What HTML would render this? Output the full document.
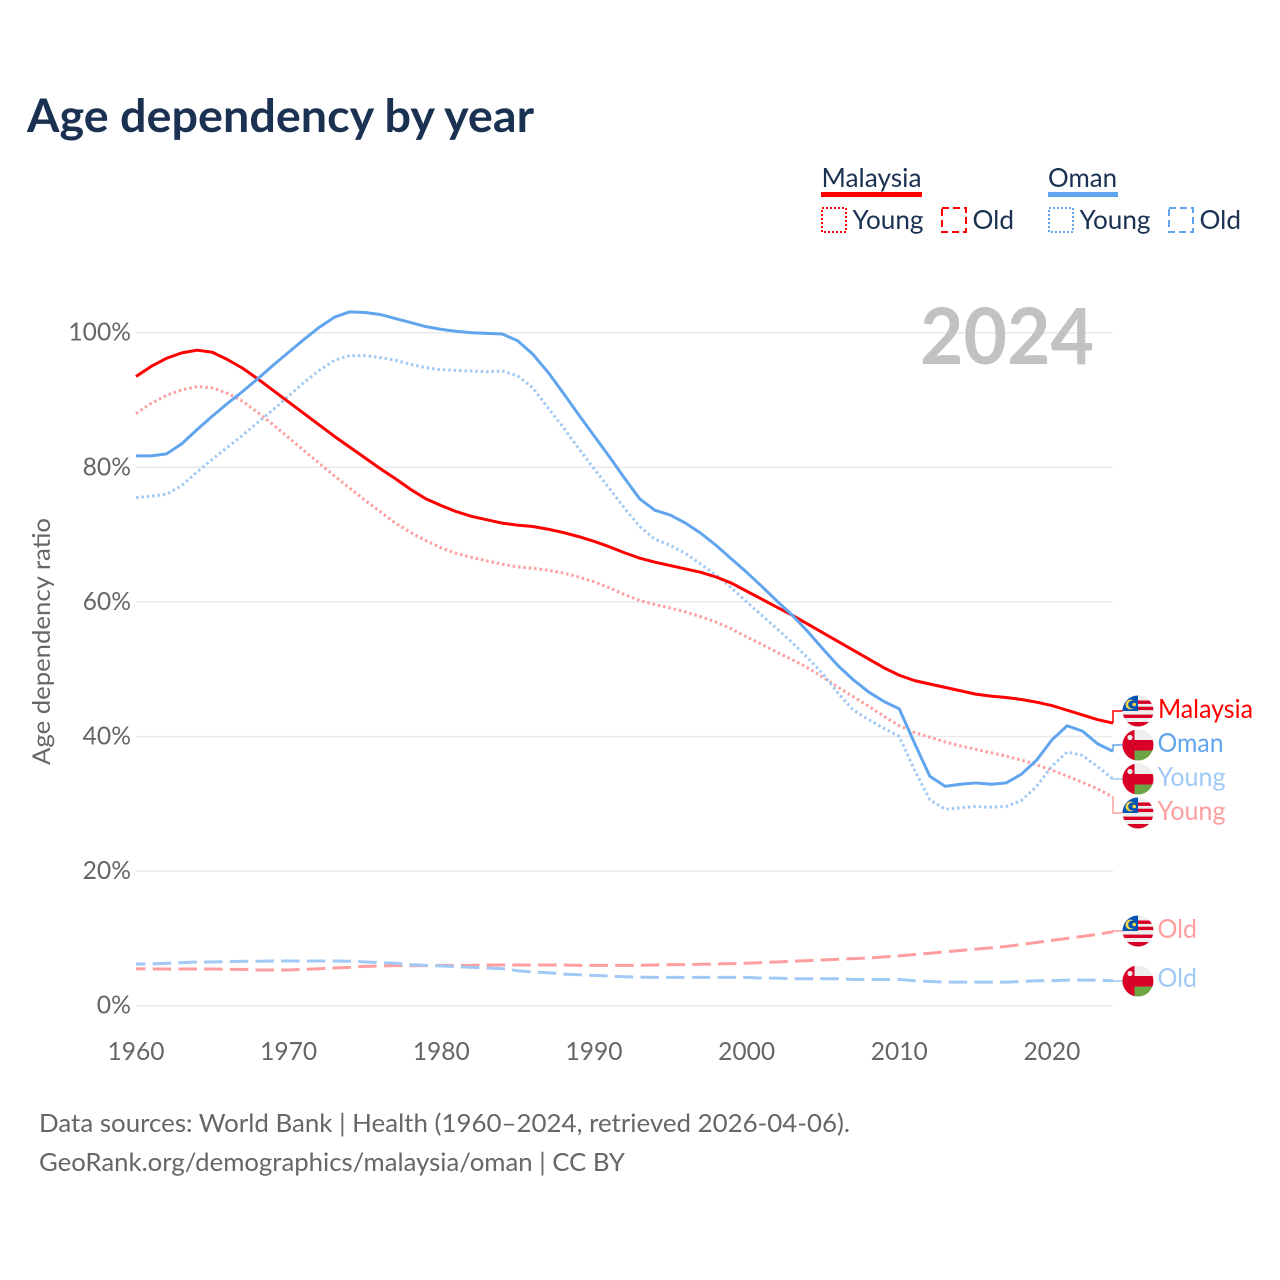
<!DOCTYPE html>
<html lang="en">
<head>
<meta charset="utf-8">
<title>Age dependency by year</title>
<style>
html,body{margin:0;padding:0;background:#fff;}
svg{display:block;}
text{font-family:"Lato","Carlito","Liberation Sans",sans-serif;}
</style>
</head>
<body>
<svg id="chart" xmlns="http://www.w3.org/2000/svg" width="1280" height="1280" viewBox="0 0 1280 1280">
  <defs>
    <clipPath id="flag-clip"><circle cx="0" cy="0" r="15.5"/></clipPath>
    <g id="flag-my" clip-path="url(#flag-clip)">
      <rect x="-16" y="-16" width="32" height="32" fill="#eeeeee"/>
      <rect x="-16" y="-10.5" width="32" height="3.4" fill="#d80027"/>
      <rect x="-16" y="-4.3" width="32" height="3.4" fill="#d80027"/>
      <rect x="-16" y="3.6" width="32" height="3.4" fill="#d80027"/>
      <rect x="-16" y="11" width="32" height="5" fill="#d80027"/>
      <rect x="-16" y="-16" width="16" height="16" fill="#0052b4"/>
      <circle cx="-7.5" cy="-6.5" r="5" fill="#ffda44"/>
      <circle cx="-5.8" cy="-6.5" r="4" fill="#0052b4"/>
      <circle cx="-3.8" cy="-6.5" r="1.8" fill="#ffda44"/>
    </g>
    <g id="flag-om" clip-path="url(#flag-clip)">
      <rect x="-16" y="-16" width="32" height="32" fill="#eeeeee"/>
      <rect x="-16" y="-5" width="32" height="10.5" fill="#d80027"/>
      <rect x="-16" y="-16" width="12.5" height="32" fill="#d80027"/>
      <rect x="-3.5" y="5.5" width="20" height="11" fill="#6da544"/>
      <circle cx="-8" cy="-7.5" r="2.6" fill="#eeeeee"/>
    </g>
  </defs>

  <rect x="0" y="0" width="1280" height="1280" fill="#ffffff"/>

  <text x="27" y="132" font-size="46" font-weight="700" fill="#1a3152" textLength="507" lengthAdjust="spacingAndGlyphs">Age dependency by year</text>

  <g>
    <text x="821.5" y="187" font-size="26" fill="#1a3152" textLength="100" lengthAdjust="spacingAndGlyphs">Malaysia</text>
    <rect x="821" y="192" width="101" height="5" fill="#ff0000"/>
    <rect x="822" y="208" width="24" height="24" fill="none" stroke="#ff0000" stroke-width="2" stroke-dasharray="2 2"/>
    <text x="852.5" y="229" font-size="26" fill="#1a3152" textLength="71" lengthAdjust="spacingAndGlyphs">Young</text>
    <rect x="942" y="208" width="24" height="24" fill="none" stroke="#ff0000" stroke-width="2" stroke-dasharray="7 4"/>
    <text x="972.5" y="229" font-size="26" fill="#1a3152" textLength="41.5" lengthAdjust="spacingAndGlyphs">Old</text>

    <text x="1048" y="187" font-size="26" fill="#1a3152" textLength="69" lengthAdjust="spacingAndGlyphs">Oman</text>
    <rect x="1048" y="192" width="70" height="5" fill="#60a5ee"/>
    <rect x="1049" y="208" width="24" height="24" fill="none" stroke="#60a5ee" stroke-width="2" stroke-dasharray="2 2"/>
    <text x="1079.5" y="229" font-size="26" fill="#1a3152" textLength="71" lengthAdjust="spacingAndGlyphs">Young</text>
    <rect x="1169" y="208" width="24" height="24" fill="none" stroke="#60a5ee" stroke-width="2" stroke-dasharray="7 4"/>
    <text x="1199.5" y="229" font-size="26" fill="#1a3152" textLength="41.5" lengthAdjust="spacingAndGlyphs">Old</text>
  </g>

  <g id="grid"></g>

  <text x="920" y="364" font-size="78" font-weight="700" fill="#c2c2c2" textLength="174" lengthAdjust="spacingAndGlyphs">2024</text>

  <g id="ylabels"></g>
  <g id="xlabels"></g>
  <text transform="translate(50,765) rotate(-90)" x="0" y="0" font-size="24" fill="#666666" textLength="247" lengthAdjust="spacingAndGlyphs">Age dependency ratio</text>

  <g id="series"></g>
  <g id="connectors"></g>

  <g>
    <use href="#flag-my" x="1138" y="711"/>
    <use href="#flag-om" x="1138" y="745"/>
    <use href="#flag-om" x="1138" y="779"/>
    <use href="#flag-my" x="1138" y="813"/>
    <use href="#flag-my" x="1138" y="931"/>
    <use href="#flag-om" x="1138" y="981"/>
    <text x="1158" y="718" font-size="26" fill="#ff0000" textLength="95" lengthAdjust="spacingAndGlyphs">Malaysia</text>
    <text x="1157.5" y="752" font-size="26" fill="#60a5ee" textLength="66" lengthAdjust="spacingAndGlyphs">Oman</text>
    <text x="1157.5" y="786" font-size="26" fill="#a0c9f6" textLength="68" lengthAdjust="spacingAndGlyphs">Young</text>
    <text x="1157.5" y="820" font-size="26" fill="#ff9e9e" textLength="68" lengthAdjust="spacingAndGlyphs">Young</text>
    <text x="1157.5" y="938" font-size="26" fill="#ff9e9e" textLength="39.5" lengthAdjust="spacingAndGlyphs">Old</text>
    <text x="1157.5" y="987" font-size="26" fill="#a0c9f6" textLength="39.5" lengthAdjust="spacingAndGlyphs">Old</text>
  </g>

  <text x="39" y="1132" font-size="25" fill="#666666" textLength="811" lengthAdjust="spacingAndGlyphs">Data sources: World Bank | Health (1960–2024, retrieved 2026-04-06).</text>
  <text x="39" y="1171" font-size="25" fill="#666666" textLength="586" lengthAdjust="spacingAndGlyphs">GeoRank.org/demographics/malaysia/oman | CC BY</text>
</svg>

<script>
const startYear = 1960;
const xTickYears = [1960, 1970, 1980, 1990, 2000, 2010, 2020];
const yTickValues = [0, 20, 40, 60, 80, 100];

const malaysiaTotal = [93.5,95.0,96.2,97.0,97.4,97.1,96.0,94.7,93.1,91.4,89.7,88.0,86.3,84.6,83.0,81.4,79.8,78.3,76.7,75.3,74.3,73.4,72.7,72.2,71.7,71.4,71.2,70.8,70.3,69.7,69.0,68.2,67.3,66.5,65.9,65.4,64.9,64.4,63.7,62.8,61.6,60.4,59.2,58.0,56.7,55.4,54.1,52.8,51.5,50.2,49.1,48.3,47.8,47.3,46.8,46.3,46.0,45.8,45.5,45.1,44.6,43.9,43.2,42.5,42.0];
const malaysiaYoung = [88.0,89.5,90.7,91.5,92.0,91.8,91.0,89.8,88.1,86.3,84.4,82.5,80.6,78.7,76.9,75.1,73.4,71.7,70.3,69.1,68.0,67.2,66.6,66.1,65.6,65.2,65.0,64.7,64.3,63.7,63.0,62.1,61.1,60.2,59.6,59.1,58.5,57.8,57.0,56.0,54.8,53.7,52.5,51.4,50.2,48.8,47.3,45.9,44.5,43.0,41.6,40.6,39.9,39.2,38.6,38.1,37.6,37.1,36.5,35.8,35.0,34.1,33.2,32.2,31.0];
const malaysiaOld = [5.5,5.45,5.45,5.45,5.45,5.45,5.4,5.4,5.3,5.3,5.3,5.4,5.5,5.6,5.7,5.85,5.9,5.95,5.95,5.95,6.0,6.0,6.0,6.05,6.05,6.05,6.05,6.05,6.05,6.0,6.0,6.0,6.0,6.0,6.05,6.1,6.1,6.15,6.2,6.25,6.3,6.4,6.5,6.6,6.7,6.8,6.9,7.0,7.1,7.25,7.4,7.6,7.8,8.0,8.2,8.4,8.6,8.8,9.1,9.4,9.7,10.0,10.3,10.6,11.0];
const omanTotal = [81.7,81.7,82.0,83.5,85.6,87.6,89.5,91.3,93.2,95.2,97.1,99.0,100.8,102.3,103.1,103.0,102.7,102.1,101.5,100.9,100.5,100.2,100.0,99.9,99.8,98.8,96.8,94.1,91.0,87.8,84.7,81.6,78.4,75.3,73.6,72.9,71.7,70.2,68.4,66.4,64.4,62.3,60.1,58.0,55.6,53.0,50.5,48.4,46.6,45.2,44.1,39.0,34.1,32.6,32.9,33.1,32.9,33.1,34.4,36.5,39.5,41.6,40.8,38.9,37.8];
const omanYoung = [75.5,75.7,76.0,77.3,79.3,81.2,83.0,84.8,86.7,88.6,90.6,92.6,94.4,95.9,96.6,96.6,96.3,95.9,95.3,94.8,94.5,94.4,94.3,94.2,94.3,93.6,91.8,88.8,85.9,82.8,79.8,76.9,73.9,71.2,69.3,68.4,67.2,65.6,64.0,62.1,60.0,58.0,56.0,53.9,51.7,49.3,46.4,43.9,42.5,41.2,40.0,35.0,30.6,29.2,29.4,29.6,29.5,29.6,30.5,32.6,35.6,37.7,37.2,35.5,33.7];
const omanOld = [6.2,6.2,6.3,6.4,6.5,6.5,6.55,6.6,6.6,6.65,6.65,6.65,6.65,6.65,6.6,6.5,6.4,6.3,6.1,6.0,5.9,5.8,5.7,5.6,5.5,5.2,5.0,4.9,4.7,4.6,4.5,4.4,4.3,4.25,4.2,4.2,4.2,4.2,4.2,4.2,4.2,4.1,4.1,4.0,4.0,4.0,4.0,3.9,3.9,3.9,3.9,3.7,3.6,3.5,3.5,3.5,3.5,3.5,3.6,3.7,3.7,3.8,3.8,3.8,3.7];

const SVG_NS = 'http://www.w3.org/2000/svg';
const RED = '#ff0000', BLUE = '#60a5ee', LIGHT_RED = '#ff9e9e', LIGHT_BLUE = '#a0c9f6';
const xScale = year => 136 + (year - startYear) * (1113 - 136) / 64;
const yScale = value => 1005.7 - value * 6.73;

function makeEl(tag, attrs, parent) {
  const node = document.createElementNS(SVG_NS, tag);
  for (const key in attrs) node.setAttribute(key, attrs[key]);
  parent.appendChild(node);
  return node;
}

const gridGroup = document.getElementById('grid');
const yLabelGroup = document.getElementById('ylabels');
yTickValues.forEach(value => {
  const line = makeEl('line', {x1: 136, x2: 1113, y1: yScale(value), y2: yScale(value), stroke: '#e9e9e9', 'stroke-width': 1.5}, gridGroup);
  
  
  const label = makeEl('text', {x: 131, y: yScale(value) + 8, 'text-anchor': 'end', 'font-size': 25, fill: '#666666', textLength: String(value).length * 14.2 + 20, lengthAdjust: 'spacingAndGlyphs'}, yLabelGroup);
  label.textContent = value + '%';
  
  
});

const xLabelGroup = document.getElementById('xlabels');
xTickYears.forEach(year => {
  const label = makeEl('text', {x: xScale(year), y: 1060, 'text-anchor': 'middle', 'font-size': 25, fill: '#666666', textLength: 57, lengthAdjust: 'spacingAndGlyphs'}, xLabelGroup);
  label.textContent = year;
  
  
});

function linePath(values) {
  return values.map((v, i) => (i ? 'L' : 'M') + xScale(startYear + i).toFixed(2) + ' ' + yScale(v).toFixed(2)).join(' ');
}

const seriesGroup = document.getElementById('series');
const connectorGroup = document.getElementById('connectors');

function drawSeries(values, color, width, dash, dashOffset) {
  const attrs = {d: linePath(values), fill: 'none', stroke: color, 'stroke-width': width, 'stroke-linejoin': 'round'};
  if (dash) { attrs['stroke-dasharray'] = dash; attrs['stroke-dashoffset'] = dashOffset; }
  return makeEl('path', attrs, seriesGroup);
}

function drawConnector(value, labelY, color) {
  const endY = yScale(value);
  return makeEl('path', {d: 'M1113 ' + endY.toFixed(2) + ' L1113 ' + labelY + ' L1123 ' + labelY, fill: 'none', stroke: color, 'stroke-width': 1.5}, connectorGroup);
}

const s1 = drawSeries(malaysiaOld, LIGHT_RED, 3, '18.5 7.2', 9);


const s2 = drawSeries(omanOld, LIGHT_BLUE, 3, '18.5 7.2', 9);


const s3 = drawSeries(malaysiaYoung, LIGHT_RED, 3, '2.5 2.9', 0);


const s4 = drawSeries(omanYoung, LIGHT_BLUE, 3, '2.5 2.9', 0);


const s5 = drawSeries(malaysiaTotal, RED, 3);


const s6 = drawSeries(omanTotal, BLUE, 3);



const c1 = drawConnector(malaysiaTotal[malaysiaTotal.length - 1], 711, RED);


const c2 = drawConnector(omanTotal[omanTotal.length - 1], 745, BLUE);


const c3 = drawConnector(omanYoung[omanYoung.length - 1], 779, LIGHT_BLUE);


const c4 = drawConnector(malaysiaYoung[malaysiaYoung.length - 1], 813, LIGHT_RED);


const c5 = drawConnector(malaysiaOld[malaysiaOld.length - 1], 931, LIGHT_RED);


const c6 = drawConnector(omanOld[omanOld.length - 1], 981, LIGHT_BLUE);


</script>
</body>
</html>
